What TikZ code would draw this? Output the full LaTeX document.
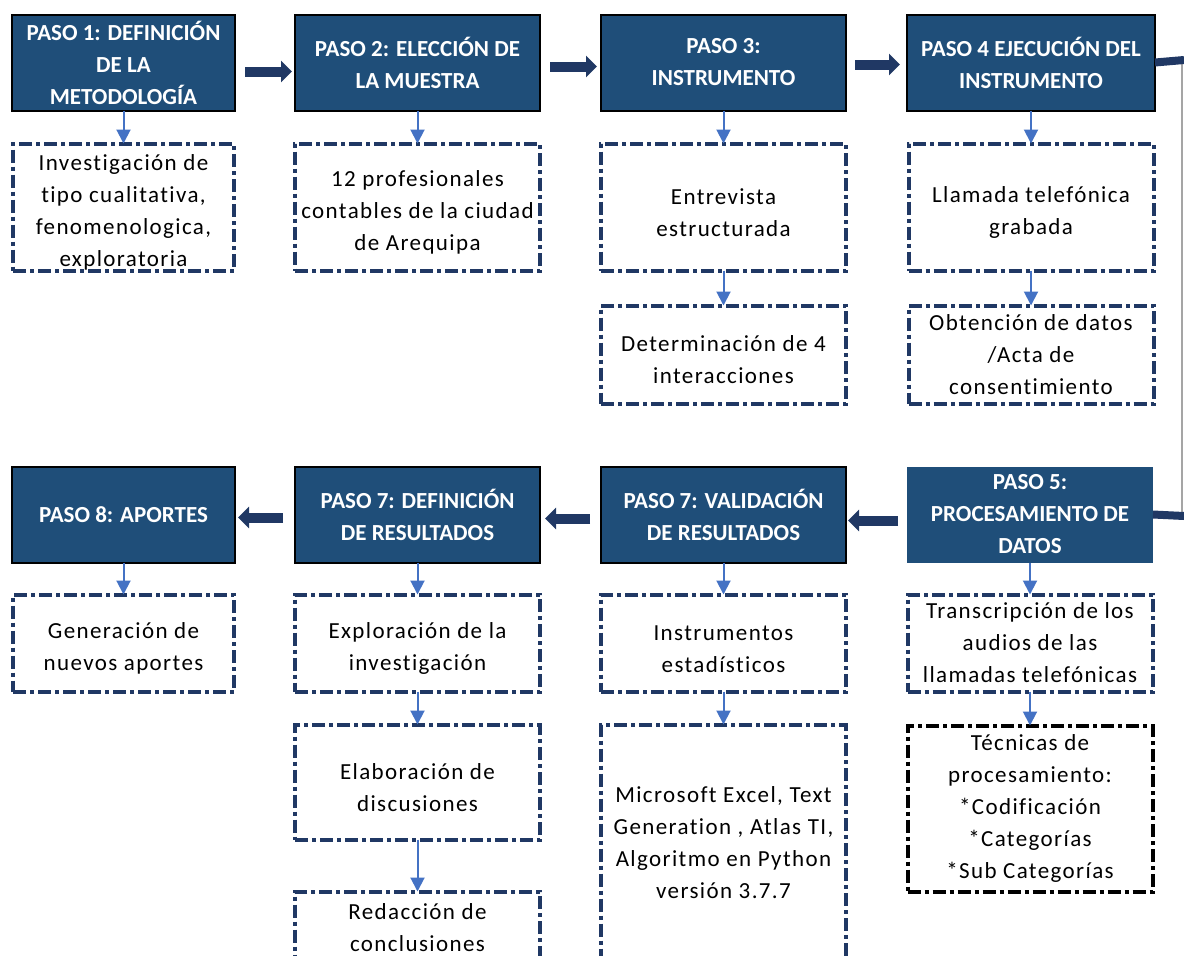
\documentclass[tikz,border=0pt]{standalone}
\usepackage{fontspec}
\setmainfont{Carlito}[Ligatures=NoCommon]
\usepackage{tikz}
\usetikzlibrary{arrows.meta,positioning}
\definecolor{pasoblue}{HTML}{1F4E79}
\definecolor{navy}{HTML}{203864}
\definecolor{linkblue}{HTML}{4472C4}
\definecolor{railgray}{HTML}{A5A5A5}
\newcommand\bajar{\rule{0pt}{27pt}}

\begin{document}
\begin{tikzpicture}[x=1pt,y=-1pt,
    paso/.style={draw=black,line width=2pt,fill=pasoblue,text=white,
        font=\fontsize{23}{32}\selectfont\bfseries,align=center,
        minimum width=245pt,minimum height=96pt,inner sep=0pt,outer sep=0pt},
    detalle/.style={draw=navy,line width=4pt,
        dash pattern=on 13pt off 4pt on 4pt off 4pt,
        font=\fontsize{23}{32}\selectfont\addfontfeature{LetterSpace=6},
        align=center,minimum width=245pt,inner sep=0pt,outer sep=0pt},
    down/.style={->,>={Triangle[length=14pt,width=14pt]},color=linkblue,
        line width=2pt},
    flow/.style={->,>={Triangle[length=11pt,width=21pt]},color=navy,
        line width=10pt},
    elbow/.style={color=navy,line width=8pt},
    rail/.style={color=railgray,line width=1.5pt}]
        \useasboundingbox (0,0) rectangle (1184,956);

        % fila de arriba
        \node[paso,minimum width=223pt] (p1) at (123.5,62.5) {PASO 1: DEFINICIÓN\\DE LA\\METODOLOGÍA};
        \node[paso] (p2) [right=60pt of p1] {PASO 2: ELECCIÓN DE\\LA MUESTRA};
        \node[paso] (p3) [right=61pt of p2] {PASO 3:\\INSTRUMENTO};
        \node[paso,minimum width=248pt] (p4) [right=61pt of p3] {PASO 4 EJECUCIÓN DEL\\INSTRUMENTO};

        \node[detalle,minimum width=221pt,minimum height=127pt] (b1) [below=33pt of p1] {\bajar Investigación de\\tipo cualitativa,\\fenomenologica,\\exploratoria};
        \node[detalle,minimum height=127pt] (b2) [below=33pt of p2] {\bajar 12 profesionales\\contables de la ciudad\\de Arequipa};
        \node[detalle,minimum height=127pt] (b3) [below=33pt of p3] {\bajar Entrevista\\estructurada};
        \node[detalle,minimum height=98pt] (b3b) [below=35pt of b3] {\bajar Determinación de 4\\interacciones};
        \node[detalle,minimum height=127pt] (b4) [below=33pt of p4] {\bajar Llamada telefónica\\grabada};
        \node[detalle,minimum height=98pt] (b4b) [below=35pt of b4] {Obtención de datos\\/Acta de\\consentimiento};

        % fila de abajo
        \node[paso,draw=none,minimum width=246pt] (p5) at (1030,514.5) {PASO 5:\\PROCESAMIENTO DE\\DATOS};
        \node[paso] (p6) [left=61pt of p5] {PASO 7: VALIDACIÓN\\DE RESULTADOS};
        \node[paso] (p7) [left=61pt of p6] {PASO 7: DEFINICIÓN\\DE RESULTADOS};
        \node[paso,minimum width=223pt] (p8) [left=60pt of p7] {PASO 8: APORTES};

        \node[detalle,minimum height=97pt] (b5) [below=32pt of p5] {Transcripción de los\\audios de las\\llamadas telefónicas};
        \node[detalle,draw=black,minimum height=166pt] (b5b) [below=34pt of b5] {Técnicas de\\procesamiento:\\*Codificación\\*Categorías\\*Sub Categorías};
        \node[detalle,minimum height=97pt] (b6) [below=32pt of p6] {\bajar Instrumentos\\estadísticos};
        \node[detalle,minimum height=236pt] (b6b) [below=33pt of b6] {Microsoft Excel, Text\\Generation , Atlas TI,\\Algoritmo en Python\\versión 3.7.7};
        \node[detalle,minimum height=97pt] (b7) [below=32pt of p7] {\bajar Exploración de la\\investigación};
        \node[detalle,minimum height=115pt] (b7b) [below=33pt of b7] {\bajar Elaboración de\\discusiones};
        \node[detalle,minimum height=72pt] (b7c) [below=52pt of b7b] {Redacción de\\conclusiones};
        \node[detalle,minimum width=221pt,minimum height=97pt] (b8) [below=32pt of p8] {\bajar Generación de\\nuevos aportes};

        \path[down] (p1) edge (b1)
        (p2) edge (b2)
        (p3) edge (b3)
        (b3) edge (b3b)
        (p4) edge (b4)
        (b4) edge (b4b)
        (p5) edge (b5)
        (b5) edge (b5b)
        (p6) edge (b6)
        (b6) edge (b6b)
        (p7) edge (b7)
        (b7) edge (b7b)
        (b7b) edge (b7c)
        (p8) edge (b8);

        \path[flow] ([xshift=10pt,yshift=-9pt]p1.east) edge ([xshift=-3pt,yshift=-9pt]p2.west)
        ([xshift=10pt,yshift=-4pt]p2.east) edge ([xshift=-4pt,yshift=-4pt]p3.west)
        ([xshift=9pt,yshift=-2pt]p3.east) edge ([xshift=-7pt,yshift=-2pt]p4.west)
        ([xshift=-9pt,yshift=-6pt]p5.west) edge ([xshift=2pt,yshift=-6pt]p6.east)
        ([xshift=-11pt,yshift=-4pt]p6.west) edge ([xshift=5pt,yshift=-4pt]p7.east)
        ([xshift=-12pt,yshift=-3pt]p7.west) edge ([xshift=3pt,yshift=-3pt]p8.east);

        % conector del paso 4 al paso 5
        \coordinate (t4) at (1184,60);
        \coordinate (t5) at (1184,516);
        \draw[rail] ([xshift=-2pt]t4) -- ([xshift=-2pt]t5);
        \draw[elbow] (p4.east) -- (t4);
        \draw[elbow] (p5.east) -- (t5);
    \end{tikzpicture}
\end{document}
